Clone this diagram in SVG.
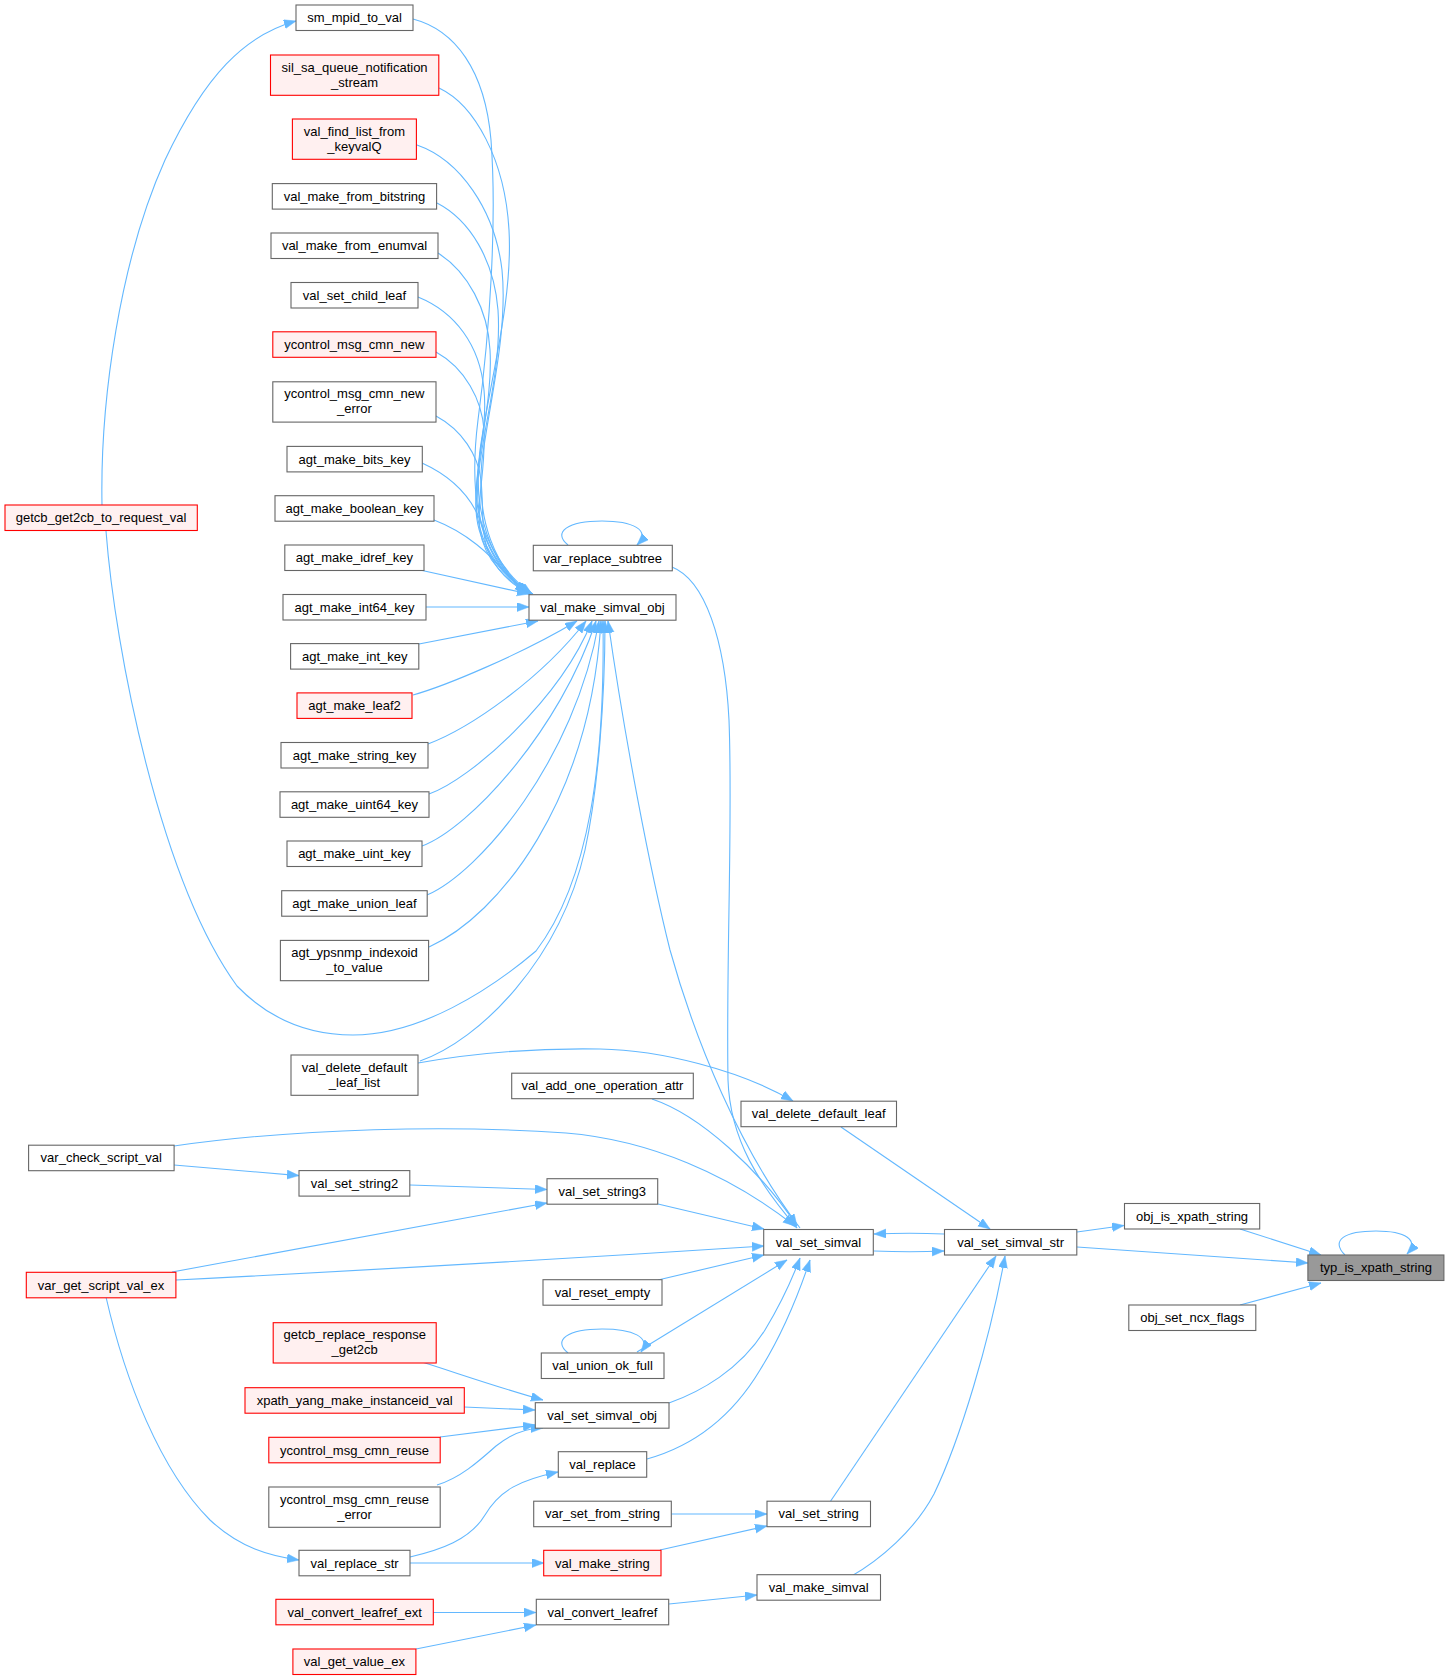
<svg xmlns="http://www.w3.org/2000/svg" width="1445" height="1680" viewBox="0 0 1445 1680">
<style>
.n rect{fill:#ffffff;stroke:#666666;stroke-width:1.1}
.r rect{fill:#fff0f0;stroke:#ff0000;stroke-width:1.1}
.h rect{fill:#999999;stroke:#666666;stroke-width:1.1}
text{font-family:"Liberation Sans",Arial,Helvetica,sans-serif;font-size:13px;text-anchor:middle;fill:#000000}
#edges path{fill:none;stroke:#63b8ff;stroke-width:1.1;marker-end:url(#arr)}
</style>
<defs>
<marker id="arr" markerUnits="userSpaceOnUse" markerWidth="14" markerHeight="11" refX="12" refY="4.5" orient="auto">
<path d="M0,0 L12,4.5 L0,9 z" fill="#63b8ff" stroke="#63b8ff" stroke-width="0.5"/>
</marker>
</defs>
<rect x="0" y="0" width="1445" height="1680" fill="#ffffff"/>
<g id="edges">
<path d="M413,19 C455,30 485,70 491,140 C497,220 490,330 478,420 C468,500 480,560 527,592"/>
<path d="M439,88 C475,105 505,160 509,230 C513,300 490,380 480,450 C472,510 490,565 528,593"/>
<path d="M417,145 C460,160 495,210 502,270 C508,330 490,400 482,460 C476,520 495,568 529,593"/>
<path d="M437,203 C470,220 494,260 498,310 C502,370 482,430 478,480 C474,535 500,572 529,593"/>
<path d="M438,253 C468,272 488,310 490,350 C493,400 477,450 476,495 C475,545 502,575 530,594"/>
<path d="M418,297 C455,312 480,345 484,390 C488,430 474,470 476,510 C478,550 505,578 530,594"/>
<path d="M436,352 C465,368 482,400 484,430 C486,470 476,500 480,530 C484,560 508,582 531,594"/>
<path d="M436,416 C462,430 478,455 481,480 C484,510 480,535 490,555 C500,575 515,587 531,594"/>
<path d="M422,463 C455,478 472,500 480,520 C490,548 505,575 532,594"/>
<path d="M434,520 C468,533 490,555 505,572 C514,582 522,589 533,594"/>
<path d="M420,570 L529,594"/>
<path d="M426,607 L529,607"/>
<path d="M419,644 L538,621"/>
<path d="M413,695 C445,686 520,655 577,621"/>
<path d="M428,744 C470,728 540,680 586,621"/>
<path d="M429,794 C470,780 560,700 592,621"/>
<path d="M422,846 C470,828 560,730 596,621"/>
<path d="M427,895 C480,872 575,760 599,621"/>
<path d="M429,947 C500,915 590,800 601,621"/>
<path d="M106,531 C115,650 160,880 237,986 C270,1020 310,1035 353,1035 C420,1035 490,990 536,951 C590,880 605,760 603,621"/>
<path d="M102,505 C100,400 120,260 165,160 C205,75 245,35 296,21"/>
<path d="M420,1061 C480,1040 560,960 585,850 C598,790 605,700 605,621"/>
<path d="M800,1228 C740,1150 695,1040 670,950 C650,870 625,740 608,621"/>
<path d="M568,545 C552,532 568,521 602,521 C632,521 652,530 637,545"/>
<path d="M672,567 C705,580 725,640 729,720 C733,820 726,960 728,1080 C730,1140 760,1185 797,1228"/>
<path d="M418,1063 C480,1052 540,1048 600,1049 C660,1050 740,1070 793,1101"/>
<path d="M652,1099 C700,1115 760,1170 797,1226"/>
<path d="M174,1146 C300,1128 450,1125 566,1133 C650,1140 730,1175 795,1226"/>
<path d="M174,1165 L299,1175.6"/>
<path d="M410,1185 L547,1189.5"/>
<path d="M172,1272 L547,1203"/>
<path d="M658,1204 L764,1229"/>
<path d="M176,1280 Q470,1265 764,1246"/>
<path d="M658,1280 L764,1255"/>
<path d="M637,1352 L787,1260"/>
<path d="M568,1353 C552,1340 568,1329 602,1329 C632,1329 652,1337 641,1352"/>
<path d="M669,1403 C700,1392 740,1370 765,1330 C780,1305 790,1285 800,1258"/>
<path d="M647,1459 C690,1447 730,1420 760,1370 C785,1330 800,1290 810,1260"/>
<path d="M422,1362 C460,1374 500,1388 543,1400"/>
<path d="M464,1407 L535,1410"/>
<path d="M440,1437 L535,1425"/>
<path d="M437,1485 C460,1478 478,1462 496,1446 C512,1433 528,1428 543,1428"/>
<path d="M106,1297 C125,1380 160,1470 210,1520 C240,1548 270,1556 299,1560"/>
<path d="M410,1557 C440,1550 470,1540 485,1515 C500,1490 520,1480 558,1472"/>
<path d="M410,1563 L544,1563"/>
<path d="M671,1514 L767,1514"/>
<path d="M660,1550 L767,1526"/>
<path d="M433,1612.5 L536,1612.5"/>
<path d="M416,1649 L536,1625"/>
<path d="M669,1604 L757,1595"/>
<path d="M850,1577 C880,1560 915,1530 934,1494 C960,1440 990,1340 1005,1256"/>
<path d="M830,1502 L996,1256"/>
<path d="M841,1127 L990,1229"/>
<path d="M874,1251 C900,1252 920,1252 944,1251"/>
<path d="M944,1234 C920,1233 900,1233 874,1234"/>
<path d="M1077,1232 L1124,1225.5"/>
<path d="M1240,1229 L1321,1255"/>
<path d="M1077,1247 L1308,1263"/>
<path d="M1240,1305 L1321,1283"/>
<path d="M1345,1255 C1330,1240 1345,1231 1376,1231 C1405,1231 1420,1240 1407,1254"/>
</g>
<g id="sm_mpid_to_val" class="n"><rect x="296" y="5" width="117" height="25.5"/><text x="354.5" y="22.2">sm_mpid_to_val</text></g>
<g id="sil_sa_queue_notification_stream" class="r"><rect x="270.5" y="55" width="168.3" height="40.3"/><text x="354.6" y="71.5">sil_sa_queue_notification</text><text x="354.6" y="86.5">_stream</text></g>
<g id="val_find_list_from_keyvalQ" class="r"><rect x="292.4" y="119" width="124" height="40.3"/><text x="354.4" y="135.5">val_find_list_from</text><text x="354.4" y="150.5">_keyvalQ</text></g>
<g id="val_make_from_bitstring" class="n"><rect x="272.3" y="183.6" width="164.3" height="25.5"/><text x="354.5" y="200.8">val_make_from_bitstring</text></g>
<g id="val_make_from_enumval" class="n"><rect x="271" y="233" width="167" height="25.5"/><text x="354.5" y="250.2">val_make_from_enumval</text></g>
<g id="val_set_child_leaf" class="n"><rect x="291" y="282.5" width="127" height="25.5"/><text x="354.5" y="299.7">val_set_child_leaf</text></g>
<g id="ycontrol_msg_cmn_new" class="r"><rect x="272.8" y="331.8" width="163.2" height="25.5"/><text x="354.4" y="349">ycontrol_msg_cmn_new</text></g>
<g id="ycontrol_msg_cmn_new_error" class="n"><rect x="272.8" y="381.8" width="163.2" height="40.3"/><text x="354.4" y="398.3">ycontrol_msg_cmn_new</text><text x="354.4" y="413.3">_error</text></g>
<g id="agt_make_bits_key" class="n"><rect x="287" y="446.4" width="135.3" height="25.5"/><text x="354.6" y="463.6">agt_make_bits_key</text></g>
<g id="agt_make_boolean_key" class="n"><rect x="275" y="495.7" width="159" height="25.5"/><text x="354.5" y="512.9">agt_make_boolean_key</text></g>
<g id="getcb_get2cb_to_request_val" class="r"><rect x="5" y="505" width="192.3" height="25.5"/><text x="101.1" y="522.2">getcb_get2cb_to_request_val</text></g>
<g id="agt_make_idref_key" class="n"><rect x="284.8" y="545" width="139.2" height="25.5"/><text x="354.4" y="562.2">agt_make_idref_key</text></g>
<g id="var_replace_subtree" class="n"><rect x="533.3" y="545.3" width="139" height="25.5"/><text x="602.8" y="562.5">var_replace_subtree</text></g>
<g id="val_make_simval_obj" class="n"><rect x="529" y="594.7" width="147" height="25.5"/><text x="602.5" y="611.9">val_make_simval_obj</text></g>
<g id="agt_make_int64_key" class="n"><rect x="283" y="594.5" width="143" height="25.5"/><text x="354.5" y="611.7">agt_make_int64_key</text></g>
<g id="agt_make_int_key" class="n"><rect x="290.6" y="643.6" width="128.2" height="25.5"/><text x="354.7" y="660.8">agt_make_int_key</text></g>
<g id="agt_make_leaf2" class="r"><rect x="297" y="692.9" width="115" height="25.5"/><text x="354.5" y="710.1">agt_make_leaf2</text></g>
<g id="agt_make_string_key" class="n"><rect x="281" y="742.5" width="147" height="25.5"/><text x="354.5" y="759.7">agt_make_string_key</text></g>
<g id="agt_make_uint64_key" class="n"><rect x="280" y="791.8" width="149" height="25.5"/><text x="354.5" y="809">agt_make_uint64_key</text></g>
<g id="agt_make_uint_key" class="n"><rect x="287" y="841" width="135" height="25.5"/><text x="354.5" y="858.2">agt_make_uint_key</text></g>
<g id="agt_make_union_leaf" class="n"><rect x="281.7" y="890.7" width="145.5" height="25.5"/><text x="354.4" y="907.9">agt_make_union_leaf</text></g>
<g id="agt_ypsnmp_indexoid_to_value" class="n"><rect x="280.4" y="940.4" width="148.2" height="40.3"/><text x="354.5" y="956.9">agt_ypsnmp_indexoid</text><text x="354.5" y="971.9">_to_value</text></g>
<g id="val_delete_default_leaf_list" class="n"><rect x="291" y="1055" width="127" height="40.3"/><text x="354.5" y="1071.5">val_delete_default</text><text x="354.5" y="1086.5">_leaf_list</text></g>
<g id="val_add_one_operation_attr" class="n"><rect x="511.7" y="1073.2" width="181.6" height="25.5"/><text x="602.5" y="1090.4">val_add_one_operation_attr</text></g>
<g id="val_delete_default_leaf" class="n"><rect x="741" y="1101.2" width="155.5" height="25.5"/><text x="818.7" y="1118.4">val_delete_default_leaf</text></g>
<g id="var_check_script_val" class="n"><rect x="28.6" y="1145.2" width="145.5" height="25.5"/><text x="101.3" y="1162.4">var_check_script_val</text></g>
<g id="val_set_string2" class="n"><rect x="299" y="1170.6" width="110.8" height="25.5"/><text x="354.4" y="1187.8">val_set_string2</text></g>
<g id="val_set_string3" class="n"><rect x="547" y="1178.7" width="110.7" height="25.5"/><text x="602.3" y="1195.9">val_set_string3</text></g>
<g id="val_set_simval" class="n"><rect x="763.7" y="1229.5" width="109.6" height="25.5"/><text x="818.5" y="1246.7">val_set_simval</text></g>
<g id="val_set_simval_str" class="n"><rect x="944.5" y="1229.5" width="132.3" height="25.5"/><text x="1010.6" y="1246.7">val_set_simval_str</text></g>
<g id="obj_is_xpath_string" class="n"><rect x="1124.5" y="1203.5" width="135.2" height="25.5"/><text x="1192.1" y="1220.7">obj_is_xpath_string</text></g>
<g id="typ_is_xpath_string" class="h"><rect x="1307.9" y="1255" width="136" height="25.5"/><text x="1375.9" y="1272.2">typ_is_xpath_string</text></g>
<g id="obj_set_ncx_flags" class="n"><rect x="1128.8" y="1305" width="127" height="25.5"/><text x="1192.3" y="1322.2">obj_set_ncx_flags</text></g>
<g id="var_get_script_val_ex" class="r"><rect x="26.3" y="1272.3" width="149.6" height="25.5"/><text x="101.1" y="1289.5">var_get_script_val_ex</text></g>
<g id="val_reset_empty" class="n"><rect x="543" y="1279.7" width="119" height="25.5"/><text x="602.5" y="1296.9">val_reset_empty</text></g>
<g id="getcb_replace_response_get2cb" class="r"><rect x="273.2" y="1322.7" width="163" height="40.3"/><text x="354.7" y="1339.2">getcb_replace_response</text><text x="354.7" y="1354.2">_get2cb</text></g>
<g id="val_union_ok_full" class="n"><rect x="541.3" y="1353" width="122.7" height="25.5"/><text x="602.6" y="1370.2">val_union_ok_full</text></g>
<g id="xpath_yang_make_instanceid_val" class="r"><rect x="245" y="1387.7" width="219.3" height="25.5"/><text x="354.6" y="1404.9">xpath_yang_make_instanceid_val</text></g>
<g id="val_set_simval_obj" class="n"><rect x="535.3" y="1402.7" width="133.7" height="25.5"/><text x="602.1" y="1419.9">val_set_simval_obj</text></g>
<g id="ycontrol_msg_cmn_reuse" class="r"><rect x="268.8" y="1437.3" width="171.4" height="25.5"/><text x="354.5" y="1454.5">ycontrol_msg_cmn_reuse</text></g>
<g id="val_replace" class="n"><rect x="558.3" y="1451.7" width="88.4" height="25.5"/><text x="602.5" y="1468.9">val_replace</text></g>
<g id="ycontrol_msg_cmn_reuse_error" class="n"><rect x="268.8" y="1487" width="171.4" height="40.3"/><text x="354.5" y="1503.5">ycontrol_msg_cmn_reuse</text><text x="354.5" y="1518.5">_error</text></g>
<g id="var_set_from_string" class="n"><rect x="533.7" y="1501.2" width="137.6" height="25.5"/><text x="602.5" y="1518.4">var_set_from_string</text></g>
<g id="val_set_string" class="n"><rect x="767" y="1501.2" width="103.5" height="25.5"/><text x="818.7" y="1518.4">val_set_string</text></g>
<g id="val_make_string" class="r"><rect x="543.7" y="1550.3" width="117.3" height="25.5"/><text x="602.3" y="1567.5">val_make_string</text></g>
<g id="val_replace_str" class="n"><rect x="299" y="1550.3" width="111" height="25.5"/><text x="354.5" y="1567.5">val_replace_str</text></g>
<g id="val_make_simval" class="n"><rect x="757" y="1574.7" width="123.5" height="25.5"/><text x="818.7" y="1591.9">val_make_simval</text></g>
<g id="val_convert_leafref" class="n"><rect x="536.3" y="1599.3" width="132.4" height="25.5"/><text x="602.5" y="1616.5">val_convert_leafref</text></g>
<g id="val_convert_leafref_ext" class="r"><rect x="275.9" y="1599.3" width="157.4" height="25.5"/><text x="354.6" y="1616.5">val_convert_leafref_ext</text></g>
<g id="val_get_value_ex" class="r"><rect x="292.9" y="1649" width="123" height="25.5"/><text x="354.4" y="1666.2">val_get_value_ex</text></g>
</svg>
